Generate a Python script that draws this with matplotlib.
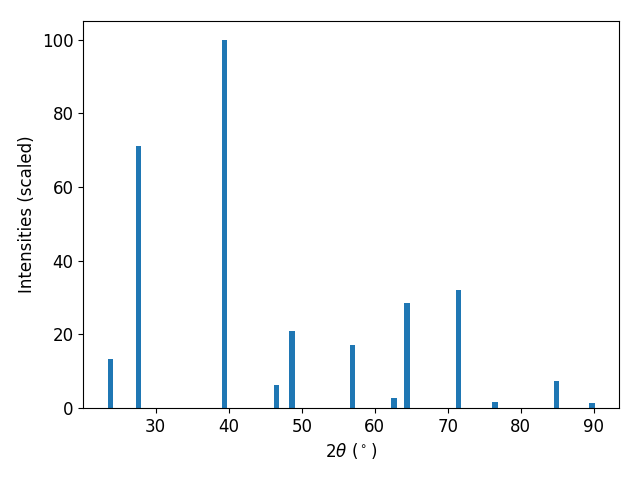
import matplotlib
matplotlib.use("Agg")
import matplotlib.pyplot as plt

two_theta = [23.8, 27.63, 39.41, 46.53, 48.72, 56.94, 62.69, 64.47, 71.46, 76.5, 84.9, 89.7]
intensity = [13.4, 71.2, 100.0, 6.3, 21.0, 17.2, 2.6, 28.4, 32.1, 1.5, 7.4, 1.3]

plt.rcParams['font.size'] = 12
fig, ax = plt.subplots(figsize=(6.4, 4.8), dpi=100)
ax.bar(two_theta, intensity, width=0.8)
ax.set_xlabel(r'$2\theta$ ($^\circ$)')
ax.set_ylabel('Intensities (scaled)')
fig.subplots_adjust(left=0.13, right=0.967, top=0.956, bottom=0.15)
fig.savefig('out.png')
